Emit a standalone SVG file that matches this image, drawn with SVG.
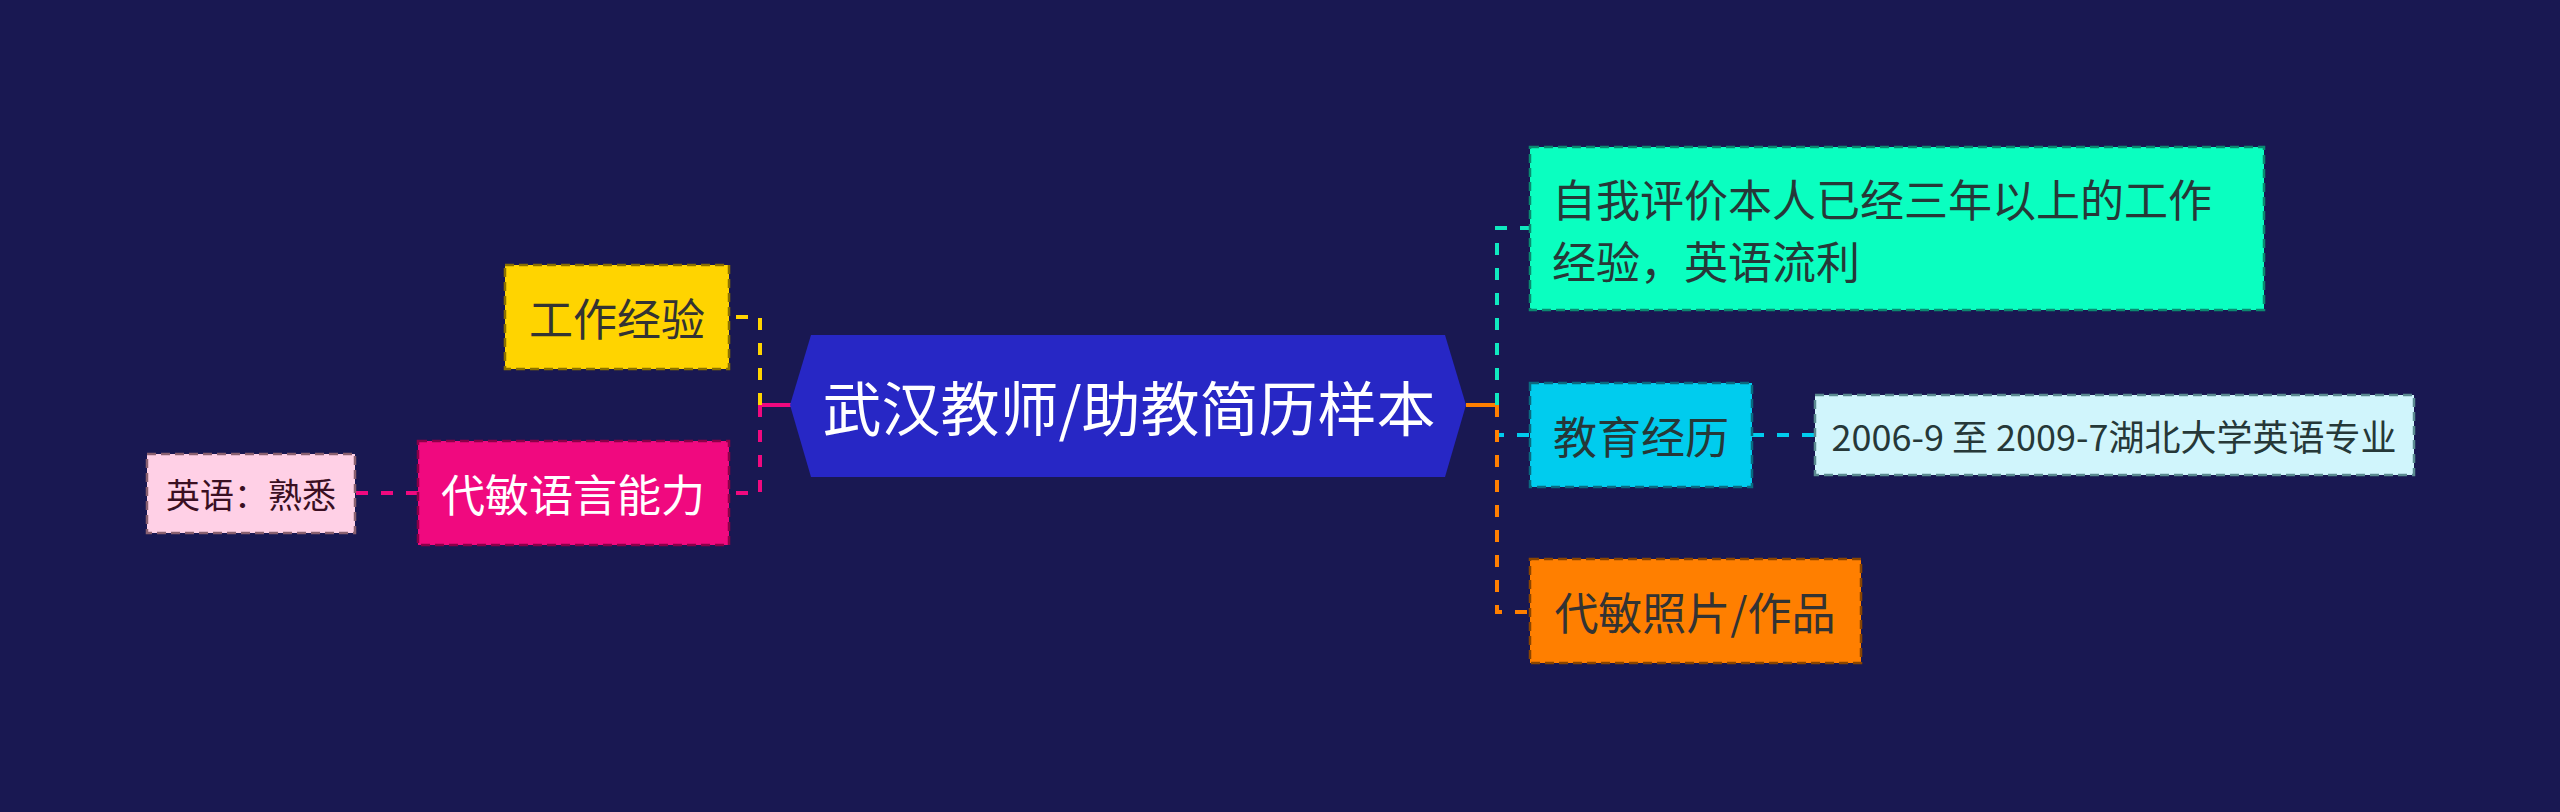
<svg xmlns="http://www.w3.org/2000/svg" width="2560" height="812" viewBox="0 0 2560 812">
<style>
text{font-family:"Noto Sans CJK SC","Noto Sans",sans-serif;dominant-baseline:central}
.c{text-anchor:middle}
.box{stroke-width:2.5;stroke-dasharray:9 5}
.ln{fill:none;stroke-width:4;stroke-dasharray:12 13}
</style>
<rect width="2560" height="812" fill="#191852"/>
<g id="connectors">
<line x1="760" y1="405" x2="791" y2="405" stroke="#F0097F" stroke-width="4"/>
<path class="ln" stroke="#FFD400" d="M760,405 V317 H729"/>
<path class="ln" stroke="#F0097F" d="M760,405 V493 H729"/>
<line x1="1466" y1="405" x2="1497" y2="405" stroke="#FF7F00" stroke-width="4"/>
<path class="ln" stroke="#10E8C0" d="M1497,405 V228 H1530"/>
<path class="ln" stroke="#00CCEE" d="M1497,405 V435 H1530"/>
<path class="ln" stroke="#FF7F00" d="M1497,405 V612 H1530"/>
<path class="ln" stroke="#00CCEE" d="M1752,435 H1815"/>
<path class="ln" stroke="#F0097F" d="M418,493 H355"/>
</g>
<g id="center">
<polygon points="790,405 811,335 1445,335 1466,405 1445,477 811,477" fill="#2727C5"/>
<text class="c" x="1129" y="405" font-size="59" fill="#FFFFFF">武汉教师/助教简历样本</text>
</g>
<g id="n-work">
<rect class="box" x="505" y="265" width="224" height="104" fill="#FFD400" stroke="#8A7000"/>
<text class="c" x="617" y="317" font-size="44" fill="#333333">工作经验</text>
</g>
<g id="n-lang">
<rect class="box" x="418" y="441" width="311" height="104" fill="#F0097F" stroke="#8A0048"/>
<text class="c" x="573" y="493" font-size="44" fill="#FFFFFF">代敏语言能力</text>
</g>
<g id="n-eng">
<rect class="box" x="147" y="454" width="208" height="79" fill="#FFD0E6" stroke="#8A6070"/>
<text class="c" x="251" y="493" font-size="34" fill="#3A0F22">英语：熟悉</text>
</g>
<g id="n-self">
<rect class="box" x="1530" y="147" width="734" height="163" fill="#0AFFC0" stroke="#0A8A70"/>
<text x="1552" y="198" font-size="44" fill="#263838">自我评价本人已经三年以上的工作</text>
<text x="1552" y="260" font-size="44" fill="#263838">经验，英语流利</text>
</g>
<g id="n-edu">
<rect class="box" x="1530" y="383" width="222" height="104" fill="#00CCEE" stroke="#0A6A80"/>
<text class="c" x="1641" y="435" font-size="44" fill="#263838">教育经历</text>
</g>
<g id="n-edu-detail">
<rect class="box" x="1815" y="395" width="599" height="80" fill="#D0F5FC" stroke="#5A8A90"/>
<text class="c" x="2114" y="435" font-size="36" fill="#263838">2006-9 至 2009-7湖北大学英语专业</text>
</g>
<g id="n-photo">
<rect class="box" x="1530" y="559" width="331" height="104" fill="#FF7F00" stroke="#8A4500"/>
<text class="c" x="1695" y="611" font-size="44" fill="#333333">代敏照片/作品</text>
</g>
</svg>
